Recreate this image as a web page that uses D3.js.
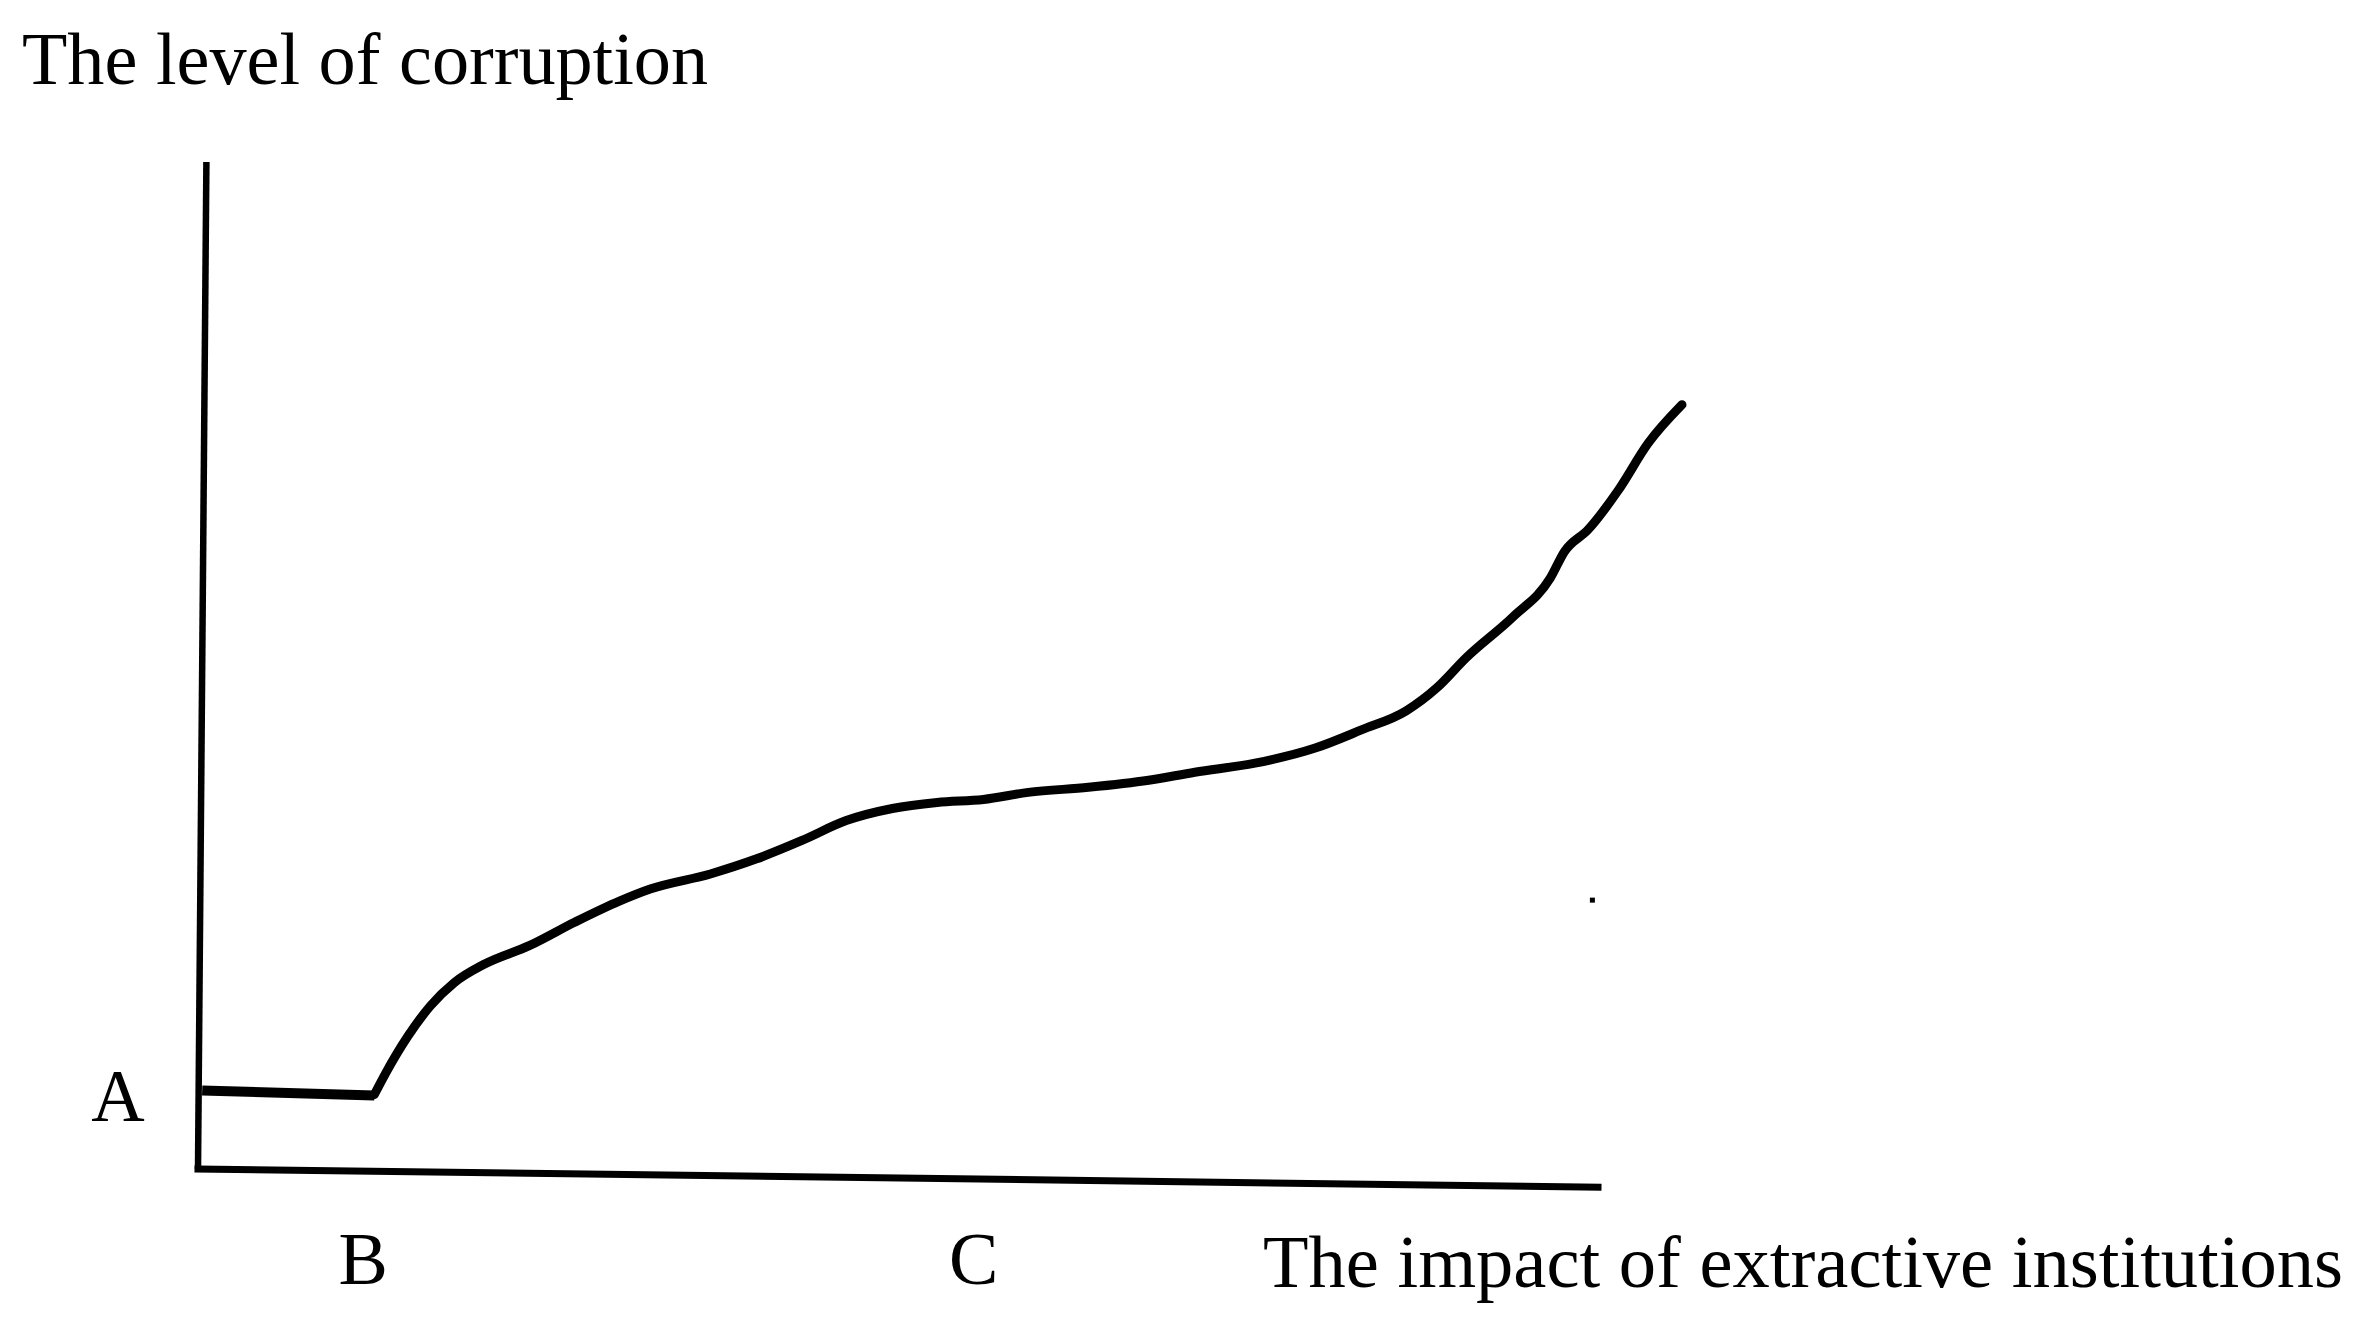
<!DOCTYPE html>
<html>
<meta charset="utf-8">

<!-- Load d3.js -->
<script src="https://d3js.org/d3.v7.min.js"></script>

<style>
  body { margin: 0; background: #fff; }
  text { font-family: "Liberation Serif", "Times New Roman", serif; fill: #000; }
</style>

<body>
  <div id="chart"></div>
</body>
<script>

  // axis captions and point letters
  var yTitle = "The level of corruption";
  var xTitle = "The impact of extractive institutions";
  var yMarks = [{ label: "A", y: 7.5 }];
  var xMarks = [{ label: "B", x: 11.8 }, { label: "C", x: 55.4 }];

  // hand drawn axes (slightly slanted in the original)
  var yAxisLine = [[0, 0], [0.6, 100]];
  var xAxisLine = [[0, 0], [100, -1.8]];

  // flat part at level A, then the rising curve
  var flatPart = [[0.3, 7.8], [12.6, 7.3]];
  var curveX = [12.6, 13.4, 15.0, 16.6, 18.3, 20.4, 23.7, 26.9, 30.1, 32.3, 36.6, 39.9,
                43.1, 46.3, 49.6, 52.8, 56.1, 59.3, 63.6, 67.9, 71.2, 75.5, 79.8, 83.1,
                86.3, 88.5, 90.6, 93.9, 96.6, 97.6, 99.3, 101.4, 103.6, 106.0];
  var curveY = [7.4, 9.5, 13.2, 16.2, 18.5, 20.3, 22.2, 24.5, 26.6, 27.8, 29.3, 30.8,
                32.6, 34.6, 35.8, 36.4, 36.7, 37.4, 37.9, 38.6, 39.4, 40.3, 41.8, 43.6,
                45.5, 47.8, 50.8, 54.8, 58.7, 61.3, 63.5, 67.3, 72.1, 75.9];

  // stray dot in the picture
  var strayDot = [[99.6, 26.7]];

  var width = 2371,
      height = 1335;

  var svg = d3.select("#chart")
    .append("svg")
      .attr("width", width)
      .attr("height", height);

  var x = d3.scaleLinear()
    .domain([0, 100])
    .range([198, 1598]);

  var y = d3.scaleLinear()
    .domain([0, 100])
    .range([1169, 162]);

  var line = d3.line()
    .x(function(d) { return x(d[0]); })
    .y(function(d) { return y(d[1]); });

  svg.append("path")
    .datum(yAxisLine)
    .attr("d", line)
    .attr("fill", "none")
    .attr("stroke", "#000")
    .attr("stroke-width", 6.5);

  svg.append("path")
    .datum(xAxisLine)
    .attr("d", line)
    .attr("fill", "none")
    .attr("stroke", "#000")
    .attr("stroke-width", 7)
    .attr("stroke-linecap", "square");

  svg.append("path")
    .datum(flatPart)
    .attr("d", line)
    .attr("fill", "none")
    .attr("stroke", "#000")
    .attr("stroke-width", 10);

  var curvePts = curveX.map(function(v, i) { return [v, curveY[i]]; });

  svg.append("path")
    .datum(curvePts)
    .attr("d", line.curve(d3.curveMonotoneX))
    .attr("fill", "none")
    .attr("stroke", "#000")
    .attr("stroke-width", 9)
    .attr("stroke-linecap", "round")
    .attr("stroke-linejoin", "round");

  svg.selectAll("rect.dot")
    .data(strayDot)
    .enter()
    .append("rect")
      .attr("class", "dot")
      .attr("x", function(d) { return x(d[0]) - 2.5; })
      .attr("y", function(d) { return y(d[1]) - 2.5; })
      .attr("width", 5)
      .attr("height", 5)
      .attr("fill", "#000");

  // letters
  svg.selectAll("text.ymark")
    .data(yMarks)
    .enter()
    .append("text")
      .attr("class", "ymark")
      .attr("x", x(0) - 80)
      .attr("y", function(d) { return y(d.y) + 28; })
      .attr("text-anchor", "middle")
      .style("font-size", "74px")
      .text(function(d) { return d.label; });

  svg.selectAll("text.xmark")
    .data(xMarks)
    .enter()
    .append("text")
      .attr("class", "xmark")
      .attr("x", function(d) { return x(d.x); })
      .attr("y", y(0) + 115)
      .attr("text-anchor", "middle")
      .style("font-size", "74px")
      .text(function(d) { return d.label; });

  // captions
  svg.append("text")
    .attr("x", 22)
    .attr("y", 84)
    .attr("textLength", 686)
    .attr("lengthAdjust", "spacingAndGlyphs")
    .style("font-size", "74px")
    .text(yTitle);

  svg.append("text")
    .attr("x", 1263)
    .attr("y", 1287)
    .attr("textLength", 1080)
    .attr("lengthAdjust", "spacingAndGlyphs")
    .style("font-size", "74px")
    .text(xTitle);

</script>
</html>
